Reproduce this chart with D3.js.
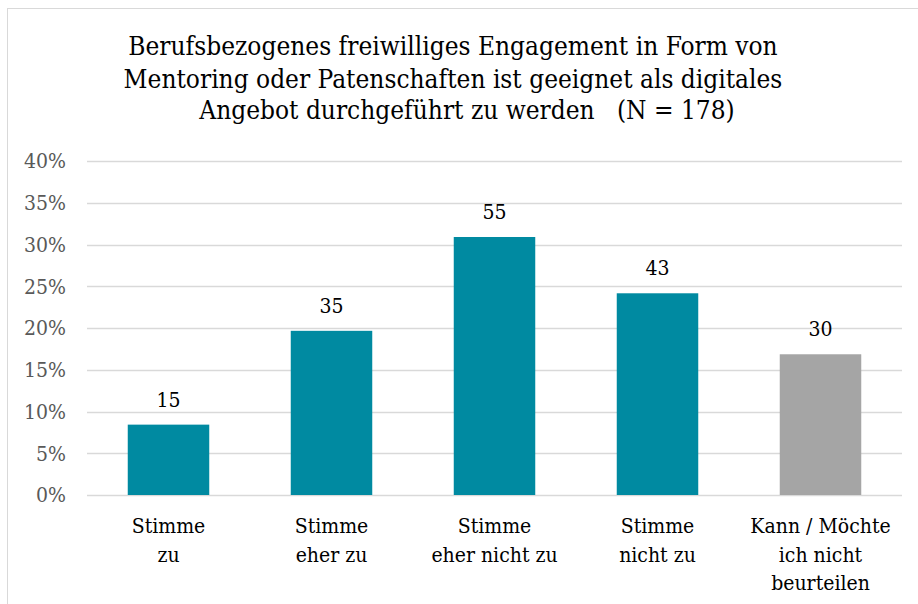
<!DOCTYPE html>
<html>
<head>
<meta charset="utf-8">
<script src="https://cdn.jsdelivr.net/npm/d3@7"></script>
<style>
  html, body { margin: 0; padding: 0; background: #fff; }
  svg { display: block; }
  svg text { font-family: 'DejaVu Serif Condensed', 'DejaVu Serif', serif; font-stretch: condensed; }
</style>
</head>
<body>
<script>
const titleLines = [
  "Berufsbezogenes freiwilliges Engagement in Form von",
  "Mentoring oder Patenschaften ist geeignet als digitales",
  "Angebot durchgeführt zu werden   (N = 178)"
];
const categories = [
  ["Stimme", "zu"],
  ["Stimme", "eher zu"],
  ["Stimme", "eher nicht zu"],
  ["Stimme", "nicht zu"],
  ["Kann / Möchte", "ich nicht", "beurteilen"]
];
const counts = [15, 35, 55, 43, 30];
const total = 178;
const barColors = ["#008AA1", "#008AA1", "#008AA1", "#008AA1", "#A5A5A5"];
const yTicks = [0, 0.05, 0.10, 0.15, 0.20, 0.25, 0.30, 0.35, 0.40];

const W = 918, H = 604;
const svg = d3.select("body").append("svg").attr("width", W).attr("height", H);

// chart border
svg.append("rect").attr("x", 7.5).attr("y", 8.5).attr("width", W).attr("height", H)
  .attr("fill", "none").attr("stroke", "#D9D9D9").attr("stroke-width", 1);

// title
const titleCX = [453, 453, 467];
const titleY = [55, 88, 119];
svg.append("g").selectAll("text").data(titleLines).join("text")
  .attr("x", (d, i) => titleCX[i]).attr("y", (d, i) => titleY[i])
  .attr("text-anchor", "middle")
  .attr("font-size", 26).attr("fill", "#000")
  .style("white-space", "pre")
  .text(d => d);

const plot = { left: 87, right: 902, top: 161, bottom: 495 };
const x = d3.scaleBand().domain(d3.range(categories.length))
  .range([plot.left, plot.right]).paddingInner(0.5).paddingOuter(0.25);
const y = d3.scaleLinear().domain([0, 0.40]).range([plot.bottom, plot.top]);

// gridlines
svg.append("g").selectAll("line").data(yTicks).join("line")
  .attr("x1", plot.left).attr("x2", plot.right)
  .attr("y1", d => Math.round(y(d)) + 0.5).attr("y2", d => Math.round(y(d)) + 0.5)
  .attr("stroke", "#D9D9D9").attr("stroke-width", 1.5);

// y tick labels
svg.append("g").selectAll("text").data(yTicks).join("text")
  .attr("x", 66).attr("y", d => y(d)).attr("dy", "0.35em")
  .attr("text-anchor", "end").attr("font-size", 21).attr("fill", "#595959")
  .text(d => d3.format(".0%")(d));

// bars
const pct = counts.map(c => c / total);
svg.append("g").selectAll("rect").data(pct).join("rect")
  .attr("x", (d, i) => x(i)).attr("width", x.bandwidth())
  .attr("y", d => y(d)).attr("height", d => y(0) - y(d))
  .attr("fill", (d, i) => barColors[i]);

// value labels
svg.append("g").selectAll("text").data(counts).join("text")
  .attr("x", (d, i) => x(i) + x.bandwidth() / 2)
  .attr("y", (d, i) => y(pct[i]) - 18)
  .attr("text-anchor", "middle").attr("font-size", 21).attr("fill", "#000")
  .text(d => d);

// category labels
const catG = svg.append("g");
categories.forEach((lines, i) => {
  catG.append("text")
    .attr("x", x(i) + x.bandwidth() / 2).attr("y", 533)
    .attr("text-anchor", "middle").attr("font-size", 21).attr("fill", "#000")
    .selectAll("tspan").data(lines).join("tspan")
    .attr("x", x(i) + x.bandwidth() / 2)
    .attr("dy", (d, j) => j === 0 ? 0 : 28.5)
    .text(d => d);
});
</script>
</body>
</html>
